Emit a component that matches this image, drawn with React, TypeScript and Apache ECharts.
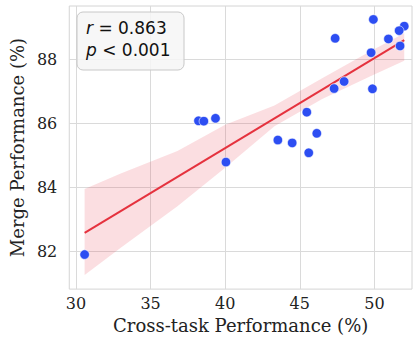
import React, { useEffect, useRef } from "react";
import * as echarts from "echarts";

const crossTask = [49.93, 52.0, 51.66, 50.94, 47.37, 49.78, 51.72, 47.3, 47.97, 49.87, 45.47, 38.21, 38.57, 39.35, 46.14, 43.53, 44.49, 45.6, 40.05, 30.58];
const merge = [89.24, 89.03, 88.89, 88.63, 88.65, 88.2, 88.41, 87.08, 87.3, 87.07, 86.34, 86.07, 86.06, 86.15, 85.68, 85.47, 85.38, 85.07, 84.78, 81.89];

const fitX = [30.58, 52.0];
const fitY = [82.57, 88.59];

const bandX = [30.58, 33, 36.8, 40, 43.3, 46.5, 49.7, 52.0];
const bandLower = [81.25, 82.1, 83.4, 84.6, 85.9, 86.75, 87.46, 87.95];
const bandUpper = [83.94, 84.42, 85.13, 85.95, 86.55, 87.4, 88.24, 88.81];

const xTicks = [30, 35, 40, 45, 50];
const yTicks = [82, 84, 86, 88];

const statR = "0.863";
const statP = "0.001";

export default function App() {
  const ref = useRef<HTMLDivElement>(null);
  useEffect(() => {
    if (!ref.current) return;
    const chart = echarts.init(ref.current, undefined, { renderer: "svg" });
    const serif = "DejaVu Serif";
    const points = crossTask.map((x, i) => [x, merge[i]]);
    chart.setOption({
      animation: false,
      grid: {
        left: 69,
        right: 2,
        top: 6,
        bottom: 48,
        show: true,
        borderColor: "#d4d4d4",
        borderWidth: 1,
        backgroundColor: "transparent",
      },
      xAxis: {
        type: "value",
        min: 29.55,
        max: 52.52,
        name: "Cross-task Performance (%)",
        nameLocation: "middle",
        nameGap: 26,
        nameTextStyle: { fontFamily: serif, fontSize: 18, color: "#222" },
        axisLine: { show: false },
        axisTick: { show: false, customValues: xTicks },
        axisLabel: { customValues: xTicks, fontFamily: serif, fontSize: 16, color: "#222", margin: 6 },
        splitLine: { show: true, lineStyle: { color: "#dadada", width: 1 } },
      },
      yAxis: {
        type: "value",
        min: 80.81,
        max: 89.66,
        name: "Merge Performance (%)",
        nameLocation: "middle",
        nameGap: 42,
        nameTextStyle: { fontFamily: serif, fontSize: 18, color: "#222" },
        axisLine: { show: false },
        axisTick: { show: false, customValues: yTicks },
        axisLabel: { customValues: yTicks, fontFamily: serif, fontSize: 16, color: "#222", margin: 12 },
        splitLine: { show: true, lineStyle: { color: "#dadada", width: 1 } },
      },
      series: [
        {
          type: "custom",
          z: 1,
          data: [[bandX[0], bandLower[0]]],
          renderItem: (params: any, api: any) => {
            const pts: number[][] = [];
            for (let i = 0; i < bandX.length; i++) pts.push(api.coord([bandX[i], bandUpper[i]]));
            for (let i = bandX.length - 1; i >= 0; i--) pts.push(api.coord([bandX[i], bandLower[i]]));
            return {
              type: "polygon",
              shape: { points: pts },
              style: { fill: "rgba(232,60,75,0.17)" },
            };
          },
          silent: true,
        },
        {
          type: "line",
          z: 2,
          data: fitX.map((x, i) => [x, fitY[i]]),
          symbol: "none",
          lineStyle: { color: "#e5323e", width: 2 },
          silent: true,
        },
        {
          type: "scatter",
          z: 3,
          data: points,
          symbolSize: 9.5,
          itemStyle: { color: "#2d4ef2", borderColor: "#ffffff", borderWidth: 0.6, opacity: 1 },
        },
      ],
      graphic: [
        {
          type: "rect",
          shape: { x: 77, y: 12, width: 107, height: 58, r: 6 },
          style: { fill: "rgba(246,246,246,0.85)", stroke: "#c8c8c8", lineWidth: 1 },
          z: 10,
        },
        {
          type: "text",
          x: 86,
          y: 17,
          z: 11,
          style: {
            text: "{i|r} = " + statR + "\n{i|p} < " + statP,
            fontFamily: "DejaVu Sans",
            fontSize: 17,
            lineHeight: 22,
            fill: "#111",
            rich: {
              i: { fontFamily: "DejaVu Sans", fontStyle: "italic", fontSize: 17, fill: "#111", lineHeight: 22 },
            },
          },
        },
      ],
    });
    return () => chart.dispose();
  }, []);
  return <div ref={ref} style={{ width: 414, height: 339, position: "absolute", left: 0, top: 0 }} />;
}
